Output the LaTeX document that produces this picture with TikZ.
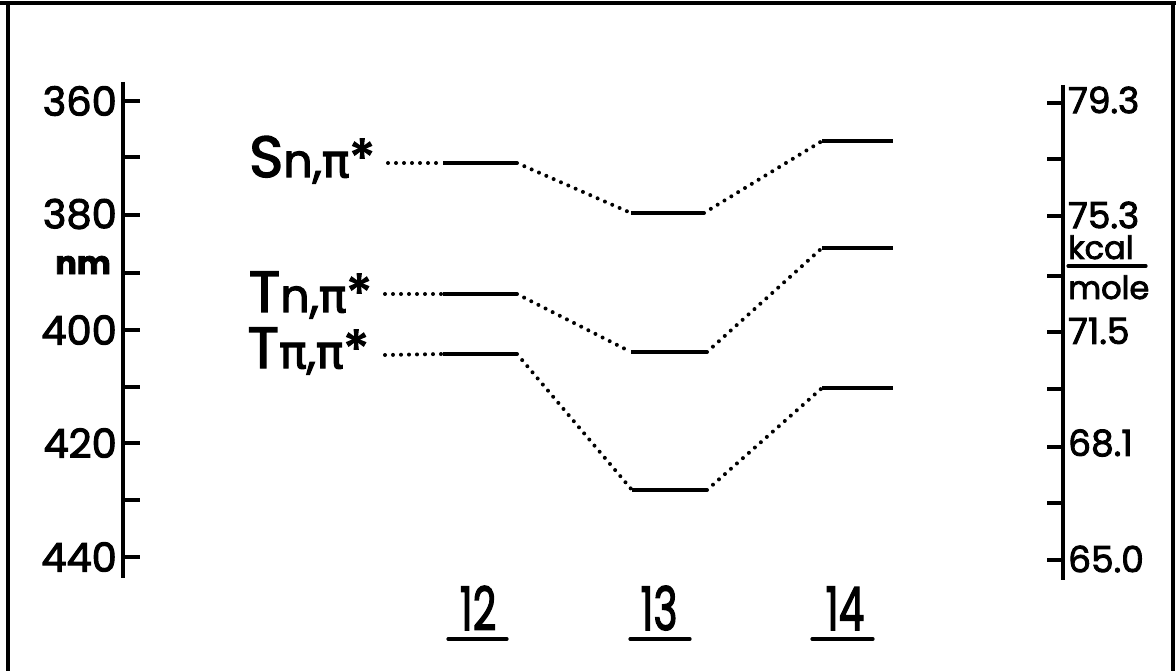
\documentclass[tikz,border=0pt]{standalone}
\usepackage{fontspec}
\setmainfont{Poppins}[FakeBold=2.5]
\newfontfamily\grk{DejaVu Sans}[FakeBold=2.5]
\usetikzlibrary{calc}

% lowercase part and asterisk of the state symbols
\newcommand\lvsub[1]{{\fontsize{46}{46}\selectfont #1}}
\newcommand\lvstar{{\fontsize{52}{52}\selectfont *}}
\newcommand\lvpi{{\grk π}}

\begin{document}
\begin{tikzpicture}[x=1pt,y=-1pt,
  framebox/.style={line width=3.5pt},
  axisline/.style={line width=3.2pt},
  tickline/.style={line width=3.2pt},
  level/.style={line width=4.5pt},
  dotline/.style={line width=4pt, line cap=round, dash pattern=on 0pt off 8pt},
  uline/.style={line width=3.2pt, line cap=round},
  numlabel/.style={inner sep=0pt, font=\fontsize{40}{40}\selectfont},
  kcallabel/.style={inner sep=0pt, font=\fontsize{36}{36}\selectfont},
  unitlabel/.style={inner sep=0pt, font=\fontsize{32}{32}\selectfont},
  statelabel/.style={inner sep=0pt, font=\fontsize{58}{58}\selectfont},
  cmpd/.style={inner sep=0pt, font=\fontsize{60}{60}\selectfont}
]
\useasboundingbox (0,0) rectangle (1176,671);

% frame
\draw[framebox] (0,3) -- (1176,3);
\draw[framebox] (8,3) -- (8,671);
\draw[framebox] (1173,3) -- (1173,671);

% wavelength axis (left)
\draw[axisline] (123,82) -- (123,578);
\foreach \y in {101,157,215,273,330,387,443,500,557}
  \draw[tickline] (123,\y) -- (140,\y);
\node[numlabel, anchor=east] (w360) at (117,101) {360};
\node[numlabel, anchor=east] (w380) at (117,214) {380};
\node[unitlabel, anchor=east, font=\fontsize{32}{32}\selectfont\bfseries] (wnm) at (111,265) {nm};
\node[numlabel, anchor=east] (w400) at (117,330) {400};
\node[numlabel, anchor=east] (w420) at (117,443) {420};
\node[numlabel, anchor=east] (w440) at (117,557) {440};

% energy axis (right)
\draw[axisline] (1063,85) -- (1063,580);
\foreach \y in {103,159,216,276,332,389,447,503,560}
  \draw[tickline] (1047,\y) -- (1063,\y);
\node[kcallabel, anchor=west] (e793) at (1068,100) {79.3};
\node[kcallabel, anchor=west] (e753) at (1068,215) {75.3};
\node[unitlabel, anchor=base west] (ekcal) at (1068,259) {kcal};
\draw[uline] (1068,266) -- (1146,266);
\node[unitlabel, anchor=base west] (emole) at (1068,299) {mole};
\node[kcallabel, anchor=west] (e715) at (1068,331) {71.5};
\node[kcallabel, anchor=west] (e681) at (1068,443) {68.1};
\node[kcallabel, anchor=west] (e650) at (1068,559) {65.0};

% state labels
\node[statelabel, anchor=base east] (slab) at (375,177) {S\lvsub{n,\lvpi}\lvstar};
\node[statelabel, anchor=base east] (tlab) at (372,312) {T\lvsub{n,\lvpi}\lvstar};
\node[statelabel, anchor=base east] (plab) at (369,368) {T\lvsub{\lvpi,\lvpi}\lvstar};

% level end points
\coordinate (sdot) at (388,163);
\coordinate (tdot) at (385,294);
\coordinate (pdot) at (385,355);

\coordinate (s12a) at (443,163); \coordinate (s12b) at (517,163);
\coordinate (t12a) at (443,294); \coordinate (t12b) at (517,294);
\coordinate (p12a) at (443,354); \coordinate (p12b) at (517,354);

\coordinate (s13a) at (631,213); \coordinate (s13b) at (704,213);
\coordinate (t13a) at (631,352); \coordinate (t13b) at (707,352);
\coordinate (p13a) at (632,490); \coordinate (p13b) at (707,490);

\coordinate (s14a) at (822,141); \coordinate (s14b) at (893,141);
\coordinate (t14a) at (822,248); \coordinate (t14b) at (893,248);
\coordinate (p14a) at (822,388); \coordinate (p14b) at (893,388);

% levels
\foreach \s in {s,t,p}
  \foreach \c in {12,13,14}
    \draw[level] (\s\c a) -- (\s\c b);

% dotted correlation lines
\draw[dotline] (sdot) -- (s12a);
\draw[dotline] (tdot) -- (t12a);
\draw[dotline] (pdot) -- (p12a);
\foreach \s in {s,t,p} {
  \draw[dotline] (\s12b) -- (\s13a);
  \draw[dotline] (\s13b) -- (\s14a);
}

% compound numbers
\node[cmpd, anchor=base] (c12) at (478,630) {\scalebox{0.68}[1]{12}};
\node[cmpd, anchor=base] (c13) at (659,630) {\scalebox{0.68}[1]{13}};
\node[cmpd, anchor=base] (c14) at (845,630) {\scalebox{0.68}[1]{14}};
\draw[uline] ($(c12.base)+(-30,9)$) -- ($(c12.base)+(29,9)$);
\draw[uline] ($(c13.base)+(-29,9)$) -- ($(c13.base)+(31,9)$);
\draw[uline] ($(c14.base)+(-33,9)$) -- ($(c14.base)+(28,9)$);
\end{tikzpicture}
\end{document}
